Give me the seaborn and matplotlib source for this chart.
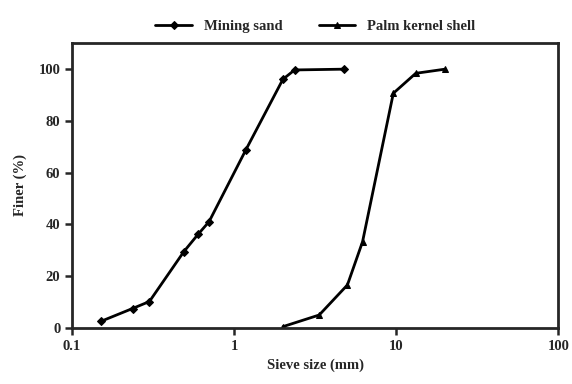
import pandas as pd
import matplotlib
matplotlib.use("Agg")
import matplotlib.pyplot as plt
import seaborn as sns
from matplotlib.ticker import FixedLocator, NullLocator, FixedFormatter

# --- data ---
sand_size = [0.15, 0.236, 0.3, 0.49, 0.6, 0.7, 1.18, 2.0, 2.36, 4.75]
sand_finer = [2.5, 7.5, 10.2, 29.5, 36.2, 41.0, 68.7, 96.0, 99.6, 99.9]

pks_size = [2.0, 3.35, 5.0, 6.2, 9.6, 13.2, 20.0]
pks_finer = [0.5, 5.0, 16.6, 33.3, 90.6, 98.3, 99.9]

series_names = ["Mining sand", "Palm kernel shell"]
x_ticks = [0.1, 1, 10, 100]
x_tick_labels = ["0.1", "1", "10", "100"]
y_ticks = [0, 20, 40, 60, 80, 100]

df = pd.concat([
    pd.DataFrame({"size": sand_size, "finer": sand_finer, "material": series_names[0]}),
    pd.DataFrame({"size": pks_size, "finer": pks_finer, "material": series_names[1]}),
])

sns.set_style("ticks")
plt.rcParams["font.family"] = ["Liberation Serif", "DejaVu Serif"]
plt.rcParams["font.weight"] = "bold"

fig, ax = plt.subplots(figsize=(5.72, 3.84), dpi=100)
sns.lineplot(data=df, x="size", y="finer", hue="material", style="material",
             markers={"Mining sand": "D", "Palm kernel shell": "^"}, dashes=False,
             palette={"Mining sand": "black", "Palm kernel shell": "black"},
             linewidth=2, markersize=4.5, markeredgecolor="black", ax=ax)

ax.set_xscale("log")
ax.set_xlim(0.1, 100)
ax.set_ylim(0, 110)
ax.xaxis.set_major_locator(FixedLocator(x_ticks))
ax.xaxis.set_major_formatter(FixedFormatter(x_tick_labels))
ax.xaxis.set_minor_locator(NullLocator())
ax.set_yticks(y_ticks)

ax.set_xlabel("Sieve size (mm)", fontsize=10.5, fontweight="bold")
ax.set_ylabel("Finer (%)", fontsize=10.5, fontweight="bold", labelpad=8)
ax.tick_params(axis="both", labelsize=10.5, width=1.8, length=5, direction="out")
for lab in ax.get_xticklabels() + ax.get_yticklabels():
    lab.set_fontweight("bold")
for sp in ax.spines.values():
    sp.set_visible(True)
    sp.set_linewidth(2)

ax.legend(loc="lower center", bbox_to_anchor=(0.5, 1.0), ncol=2, frameon=False,
          handlelength=2.5, columnspacing=2.5, borderaxespad=0.3,
          prop={"weight": "bold", "size": 10.5})

fig.subplots_adjust(left=0.126, right=0.976, top=0.888, bottom=0.146)
fig.savefig("out.png", dpi=100)
